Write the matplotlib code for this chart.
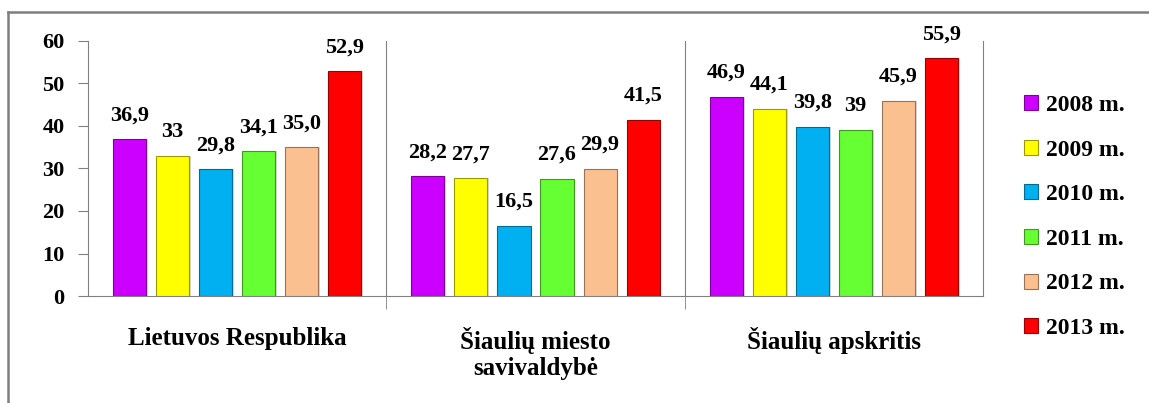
import matplotlib.pyplot as plt
from matplotlib.lines import Line2D
import numpy as np

categories = ["Lietuvos Respublika", "Šiaulių miesto\nsavivaldybė", "Šiaulių apskritis"]
years = ["2008 m.", "2009 m.", "2010 m.", "2011 m.", "2012 m.", "2013 m."]
values = [
    [36.9, 28.2, 46.9],
    [33.0, 27.7, 44.1],
    [29.8, 16.5, 39.8],
    [34.1, 27.6, 39.0],
    [35.0, 29.9, 45.9],
    [52.9, 41.5, 55.9],
]
labels = [
    ["36,9", "28,2", "46,9"],
    ["33", "27,7", "44,1"],
    ["29,8", "16,5", "39,8"],
    ["34,1", "27,6", "39"],
    ["35,0", "29,9", "45,9"],
    ["52,9", "41,5", "55,9"],
]
colors = ["#CC00FF", "#FFFF00", "#00B0F0", "#66FF33", "#FAC090", "#FF0000"]
edges = ["#7a0099", "#999900", "#006a90", "#3d991f", "#96735a", "#990000"]

plt.rcParams['font.family'] = 'serif'
plt.rcParams['font.serif'] = ['Liberation Serif', 'DejaVu Serif']
plt.rcParams['font.weight'] = 'bold'

fig = plt.figure(figsize=(11.49, 4.03), dpi=100)
ax = fig.add_axes([0.0766, 0.2655, 0.7789, 0.6328])

# outer frame (only top and left edges are visible in the crop)
W, H = 1149, 403
fig.lines.append(Line2D([8 / W, 1.0], [1 - 12 / H, 1 - 12 / H], transform=fig.transFigure,
                        color="#7f7f7f", linewidth=1.8))
fig.lines.append(Line2D([8 / W, 8 / W], [0.0, 1 - 12 / H], transform=fig.transFigure,
                        color="#7f7f7f", linewidth=1.8))

x = np.arange(len(categories))
slot = 0.1443
width = 0.111
for i, (vals, c, ec) in enumerate(zip(values, colors, edges)):
    pos = x + (i - 2.5) * slot
    # soft shadow behind bars
    ax.bar(pos + 0.006, vals, width, color="#d9d9d9", linewidth=0, zorder=2)
    ax.bar(pos, vals, width, color=c, edgecolor=ec, linewidth=0.8, label=years[i], zorder=3)
    for p, v, t in zip(pos, vals, labels[i]):
        ax.annotate(t, (p, v), xytext=(0, 10), textcoords="offset points",
                    ha="center", va="bottom", fontsize=16, fontweight="bold")

ax.set_xlim(-0.5, 2.5)
ax.set_ylim(0, 60)
ax.set_yticks(range(0, 61, 10))
ax.tick_params(axis="y", direction="out", length=7, color="#808080", labelsize=16, pad=10)
ax.set_xticks(x)
ax.set_xticklabels(categories, fontsize=18, linespacing=1.2)
ax.tick_params(axis="x", length=0, pad=22)
ax.set_xticks([0.5, 1.5], minor=True)
ax.tick_params(axis="x", which="minor", length=9, color="#808080", direction="out")
for b in [0.5, 1.5]:
    ax.axvline(b, color="#808080", linewidth=0.8, zorder=1)
for s in ax.spines.values():
    s.set_color("#808080")
    s.set_linewidth(0.8)
ax.spines["top"].set_visible(False)

ax.legend(loc="center left", bbox_to_anchor=(1.033, 0.31), frameon=False, fontsize=17,
          handlelength=0.6, handleheight=0.6, handletextpad=0.3, labelspacing=1.0,
          borderpad=0)

fig.savefig("out.png", dpi=100)
